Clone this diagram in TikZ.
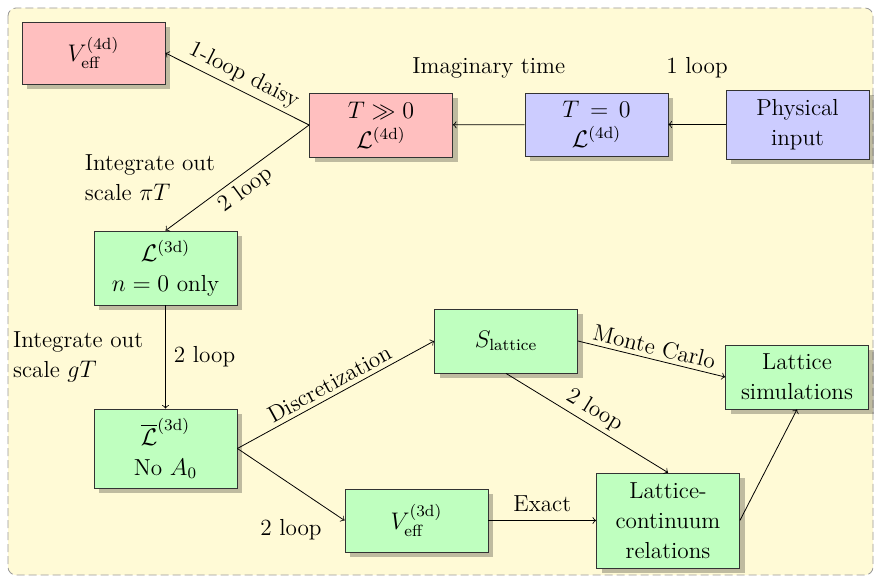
\documentclass[tikz,border=0pt]{standalone}
\usepackage{amsmath, amssymb}
\usetikzlibrary{shadows}

\definecolor{bgyellow}{RGB}{255,250,214}
\definecolor{boxred}{RGB}{255,191,191}
\definecolor{boxblue}{RGB}{204,204,255}
\definecolor{boxgreen}{RGB}{191,255,191}

\begin{document}
\begin{tikzpicture}[x=0.5pt, y=-0.5pt, >=to,
  font=\fontsize{11.6}{15}\selectfont,
  box/.style={draw=black!80, align=center, minimum width=71.5pt, inner sep=2pt,
    drop shadow={shadow xshift=2.5pt, shadow yshift=-2.5pt, fill=black, opacity=0.25}},
  hotbox/.style={box, fill=boxred},
  zerobox/.style={box, fill=boxblue},
  latbox/.style={box, fill=boxgreen},
  lbl/.style={midway, inner sep=2pt}]
  \useasboundingbox (0,0) rectangle (881,582);
  % background panel
  \draw[black!40, dash pattern=on 4pt off 2pt, rounded corners=4pt, fill=bgyellow]
    (8,8) rectangle (873,575);
  % 4d stage
  \node[hotbox, minimum height=31pt] (veffA) at (93.5,53) {$V_{\text{eff}}^{\text{(4d)}}$};
  \node[hotbox, minimum height=32pt] (thot) at (381,125) {$T \gg 0$\\ $\mathcal{L}^{\text{(4d)}}$};
  \node[zerobox, minimum height=31.5pt] (tzero) at (596.5,124.5) {$T \,=\, 0$\\ $\mathcal{L}^{\text{(4d)}}$};
  \node[zerobox, minimum height=34.5pt] (phys) at (797.5,124.5) {Physical\\ input};
  % 3d stage
  \node[latbox, minimum height=37pt] (lthree) at (165.5,268) {$\mathcal{L}^{\text{(3d)}}$\\ $n = 0$ only};
  \node[latbox, minimum height=39.5pt] (lbar) at (165.5,448.5) {$\overline{\mathcal{L}}^{\text{(3d)}}$\\ No $A_0$};
  \node[latbox, minimum height=31.5pt] (veffB) at (416.5,520.5) {$V_{\text{eff}}^{\text{(3d)}}$};
  \node[latbox, minimum height=32pt] (slat) at (506,341) {$S_{\text{lattice}}$};
  \node[latbox, minimum height=32pt] (latsim) at (797,377) {Lattice\\ simulations};
  \node[latbox, minimum height=47.5pt] (latcont) at (668,520.5) {Lattice-\\ continuum\\ relations};
  % connectors
  \draw[->] (phys) -- node[lbl, above=21pt] {1 loop} (tzero);
  \draw[->] (tzero) -- node[lbl, above=21pt] {Imaginary time} (thot);
  \draw[->] (thot.west) -- node[lbl, above, sloped] {1-loop daisy} (veffA.east);
  \draw[->] (thot.west) -- node[lbl, below, sloped] {2 loop}
    node[lbl, left=9pt, align=left] {Integrate out\\ scale $\pi T$} (lthree.north);
  \draw[->] (lthree) -- node[lbl, right=2pt] {2 loop}
    node[lbl, left=9pt, align=left] {Integrate out\\ scale $gT$} (lbar);
  \draw[->] (lbar.east) -- node[lbl, above, sloped] {Discretization} (slat.west);
  \draw[->] (lbar.east) -- node[lbl, below=15pt] {2 loop} (veffB.west);
  \draw[->] (veffB) -- node[lbl, above=2pt] {Exact} (latcont);
  \draw[->] (slat.east) -- node[lbl, above, sloped] {Monte Carlo} (latsim.west);
  \draw[->] (slat.south) -- node[lbl, above, sloped] {2 loop} (latcont.north);
  \draw[->] (latcont.east) -- (latsim.south);
\end{tikzpicture}
\end{document}
